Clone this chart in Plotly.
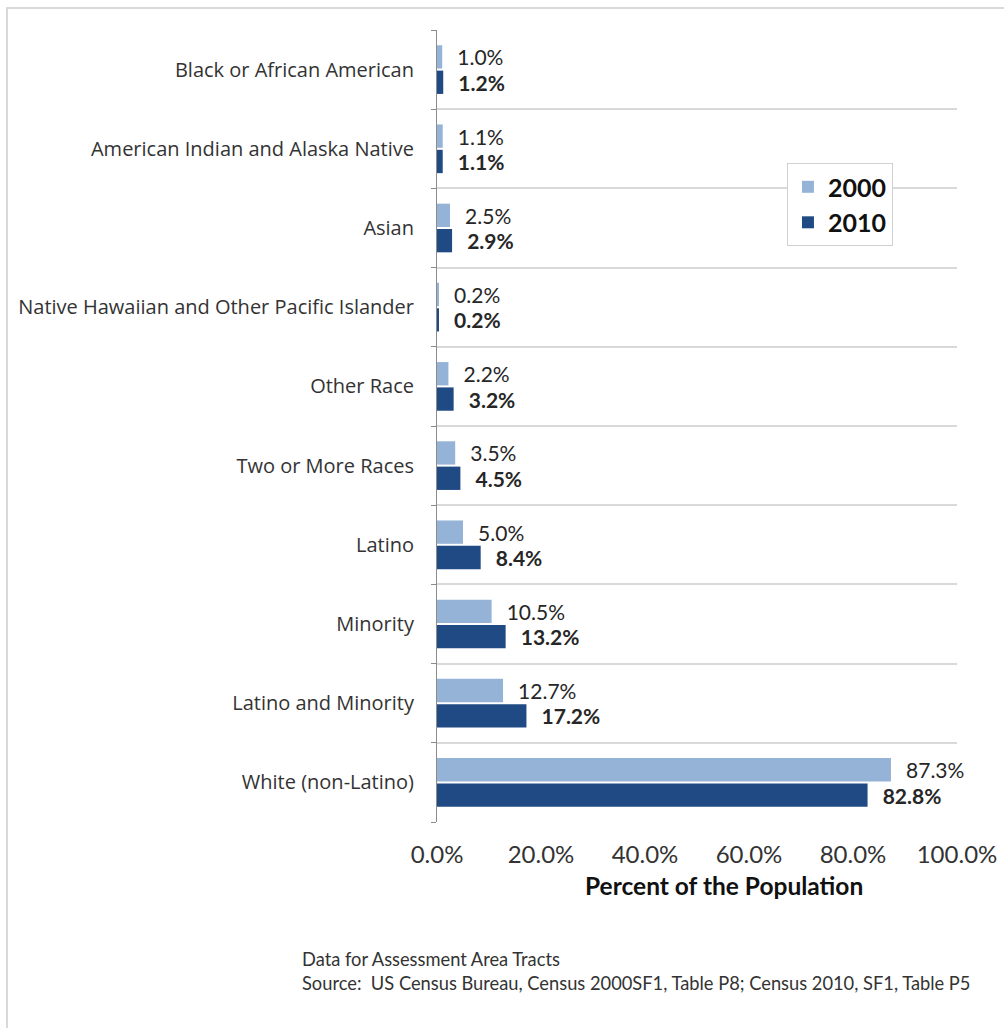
import plotly.graph_objects as go

categories = [
    "Black or African American",
    "American Indian and Alaska Native",
    "Asian",
    "Native Hawaiian and Other Pacific Islander",
    "Other Race",
    "Two or More Races",
    "Latino",
    "Minority",
    "Latino and Minority",
    "White (non-Latino)",
]
pct_2000 = [1.0, 1.1, 2.5, 0.2, 2.2, 3.5, 5.0, 10.5, 12.7, 87.3]
pct_2010 = [1.2, 1.1, 2.9, 0.2, 3.2, 4.5, 8.4, 13.2, 17.2, 82.8]
x_ticks = [0, 20, 40, 60, 80, 100]

positions = list(range(len(categories)))

COL_2000 = "#95B3D7"
COL_2010 = "#1F4A84"
TXT = "#262626"
PAD = "\u00a0\u00a0\u200a"

fig = go.Figure()
fig.add_trace(go.Bar(
    name="2000", y=positions, x=pct_2000, orientation="h",
    marker=dict(color=COL_2000, line=dict(width=0)),
    texttemplate=PAD + "%{x:.1f}%", textposition="outside",
    textfont=dict(family="Lato", size=21, color=TXT),
    constraintext="none", cliponaxis=False,
))
fig.add_trace(go.Bar(
    name="2010", y=positions, x=pct_2010, orientation="h",
    marker=dict(color=COL_2010, line=dict(width=0)),
    texttemplate=PAD + "<b>%{x:.1f}%</b>", textposition="outside",
    textfont=dict(family="Lato", size=21, color=TXT),
    constraintext="none", cliponaxis=False,
))

fig.update_layout(
    width=1004, height=1028,
    paper_bgcolor="white", plot_bgcolor="white",
    margin=dict(l=437, r=47, t=30, b=206, autoexpand=False),
    barmode="group", bargap=0.36, bargroupgap=0.08,
    font=dict(family="Open Sans", color="#333333"),
    showlegend=True,
    legend=dict(
        x=0.673, y=0.832, xanchor="left", yanchor="top",
        bordercolor="#d0d0d0", borderwidth=1, bgcolor="white",
        font=dict(family="Lato", size=25, color="#111111", weight="bold"),
        itemwidth=30, tracegroupgap=0,
    ),
    xaxis=dict(
        range=[0, 100], tickvals=x_ticks,
        ticktext=[f"{v:.1f}%" for v in x_ticks],
        tickfont=dict(family="Lato", size=24, color="#333333"),
        showgrid=False, zeroline=False, showline=False, ticks="",
        ticklabelstandoff=16, automargin=False,
    ),
    yaxis=dict(
        range=[len(categories) - 0.5, -0.5],
        tickvals=positions, ticktext=categories,
        tickfont=dict(family="Open Sans", size=20, color="#333333"),
        showgrid=False, zeroline=False, automargin=False,
        showline=True, linecolor="#8c8c8c", linewidth=1,
        ticks="", ticklabelstandoff=18,
        minor=dict(tick0=-0.5, dtick=1, showgrid=True, gridcolor="#d9d9d9",
                   gridwidth=1.5, ticks="outside", ticklen=5, tickcolor="#8c8c8c"),
    ),
    shapes=[dict(type="rect", xref="paper", yref="paper",
                 x0=(7 - 437) / 520, x1=(1010 - 437) / 520,
                 y0=(822 - 1035) / 792, y1=(822 - 8) / 792,
                 line=dict(color="#d9d9d9", width=2), layer="below")],
    annotations=[
        dict(xref="paper", yref="paper", x=(724 - 437) / 520, y=(822 - 885) / 792,
             xanchor="center", yanchor="middle", showarrow=False,
             text="<b>Percent of the Population</b>",
             font=dict(family="Lato", size=24.5, color="#111111")),
        dict(xref="paper", yref="paper", x=(300 - 437) / 520, y=(822 - 959) / 792,
             xanchor="left", yanchor="middle", showarrow=False,
             text="Data for Assessment Area Tracts",
             font=dict(family="Lato", size=18.3, color="#333333")),
        dict(xref="paper", yref="paper", x=(300 - 437) / 520, y=(822 - 983) / 792,
             xanchor="left", yanchor="middle", showarrow=False,
             text="Source:  US Census Bureau, Census 2000SF1, Table P8; Census 2010, SF1, Table P5",
             font=dict(family="Lato", size=18.3, color="#333333")),
    ],
)

fig.write_html("out.html")
